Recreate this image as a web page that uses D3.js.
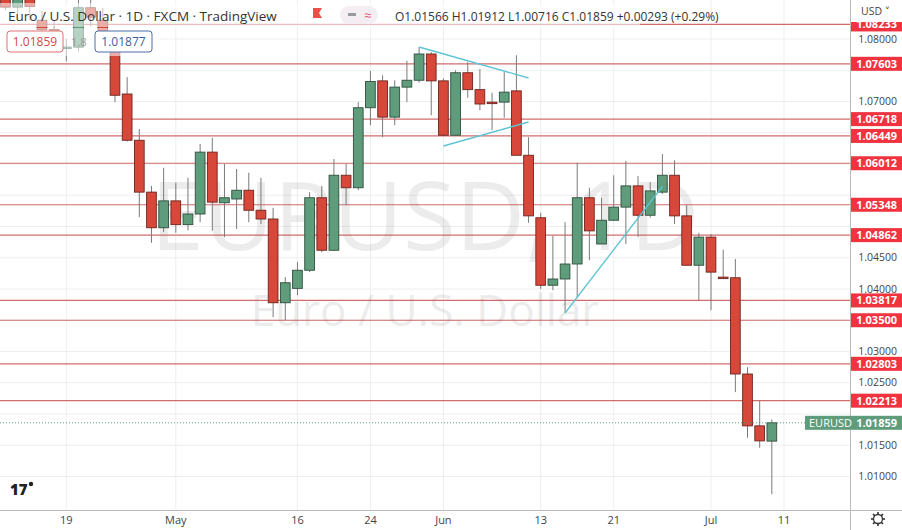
<!DOCTYPE html>
<html><head><meta charset="utf-8">
<script src="https://cdn.jsdelivr.net/npm/d3@7"></script>
<style>body{margin:0;background:#fff;}svg{display:block;font-family:"Open Sans","DejaVu Sans",sans-serif;}</style>
</head><body><svg id="c" width="902" height="530"></svg>
<script>
const dates = ["04-12","04-13","04-14","04-15","04-18","04-19","04-20","04-21","04-22","04-25","04-26","04-27","04-28","04-29",
"05-02","05-03","05-04","05-05","05-06","05-09","05-10","05-11","05-12","05-13","05-16","05-17","05-18","05-19","05-20","05-23","05-24","05-25","05-26","05-27","05-30","05-31",
"06-01","06-02","06-03","06-06","06-07","06-08","06-09","06-10","06-13","06-14","06-15","06-16","06-17","06-20","06-21","06-22","06-23","06-24","06-27","06-28","06-29","06-30",
"07-01","07-04","07-05","07-06","07-07","07-08","07-11"];
const opens  = [1.0870,1.0851,1.0865,1.0830,1.0815,1.0785,1.0787,1.0850,1.0830,1.0782,1.0712,1.0638,1.0555,1.0498,1.0541,1.0503,1.0520,1.0619,1.0538,1.0544,1.0558,1.0526,1.0512,1.0378,1.0401,1.0430,1.0546,1.0462,1.0582,1.0562,1.0690,1.0733,1.0675,1.0723,1.0734,1.0776,1.0733,1.0646,1.0746,1.0719,1.0699,1.0699,1.0717,1.0614,1.0514,1.0406,1.0416,1.0440,1.0546,1.0472,1.0510,1.0531,1.0565,1.0518,1.0555,1.0582,1.0517,1.0438,1.0483,1.0419,1.0418,1.0264,1.0181,1.01566];
const highs  = [1.0885,1.0880,1.0875,1.0845,1.0830,1.0800,1.0870,1.0936,1.0850,1.0798,1.0739,1.0656,1.0565,1.0594,1.0570,1.0578,1.0632,1.0642,1.0600,1.0592,1.0586,1.0578,1.0530,1.0419,1.0443,1.0555,1.0565,1.0608,1.0600,1.0699,1.0749,1.0742,1.0734,1.0765,1.0787,1.0779,1.0737,1.0750,1.0763,1.0752,1.0714,1.0747,1.0774,1.0643,1.0522,1.0485,1.0507,1.0602,1.0562,1.0546,1.0582,1.0605,1.0581,1.0571,1.0616,1.0606,1.0534,1.0490,1.0488,1.0463,1.0448,1.0275,1.0221,1.01912];
const lows   = [1.0846,1.0840,1.0830,1.0805,1.0785,1.0764,1.0780,1.0820,1.0790,1.0699,1.0636,1.0515,1.0474,1.0491,1.0490,1.0494,1.0507,1.0493,1.0483,1.0496,1.0507,1.0504,1.0355,1.0350,1.0390,1.0427,1.0459,1.0461,1.0534,1.0558,1.0662,1.0643,1.0662,1.0699,1.0730,1.0678,1.0645,1.0646,1.0706,1.0686,1.0654,1.0674,1.0614,1.0506,1.0400,1.0398,1.0362,1.0386,1.0446,1.0472,1.0509,1.0472,1.0483,1.0514,1.0552,1.0504,1.0438,1.0382,1.0366,1.0417,1.0235,1.0162,1.0146,1.00716];
const closes = [1.0851,1.0865,1.0852,1.0815,1.0800,1.0787,1.0850,1.0835,1.0810,1.0710,1.0638,1.0555,1.0498,1.0541,1.0503,1.0520,1.0619,1.0539,1.0546,1.0558,1.0526,1.0512,1.0378,1.0410,1.0430,1.0546,1.0462,1.0582,1.0562,1.0690,1.0732,1.0675,1.0723,1.0734,1.0776,1.0733,1.0646,1.0746,1.0719,1.0696,1.0697,1.0715,1.0614,1.0517,1.0406,1.0416,1.0440,1.0546,1.0493,1.0510,1.0531,1.0565,1.0518,1.0557,1.0582,1.0517,1.0438,1.0483,1.0427,1.0418,1.0264,1.0181,1.0157,1.01859];
const levels = [1.08233,1.07603,1.06718,1.06449,1.06012,1.05348,1.04862,1.03817,1.03500,1.02803,1.02213];
const priceTicks = [1.080,1.075,1.070,1.065,1.060,1.055,1.050,1.045,1.040,1.035,1.030,1.025,1.020,1.015,1.010];
const dateTicks = [["04-19","19"],["05-02","May"],["05-16","16"],["05-24","24"],["06-01","Jun"],["06-13","13"],["06-21","21"],["07-01","Jul"],["07-11","11"]];
const trendLines = [[["05-30",1.07872],["06-10",1.07376]],[["06-01",1.06288],["06-10",1.06672]],[["06-15",1.03616],["06-27",1.05640]]];
const last = 1.01859;

const svg = d3.select("#c");
const W=850, B=510;
const x = d3.scalePoint().domain(dates).range([5.5,784]);
const y = d3.scaleLinear().domain([1.08,1.01]).range([39,476.5]);
const step = x.step();

svg.append("g").selectAll("line").data(priceTicks).join("line")
 .attr("x1",0).attr("x2",W).attr("y1",d=>y(d)).attr("y2",d=>y(d)).attr("stroke","#eeeeee");
svg.append("g").selectAll("line").data(dateTicks).join("line")
 .attr("x1",d=>x(d[0])).attr("x2",d=>x(d[0])).attr("y1",0).attr("y2",B).attr("stroke","#eeeeee");

svg.append("text").attr("x",425).attr("y",250).attr("text-anchor","middle").attr("font-size",96)
 .attr("fill","#000").attr("opacity",0.07).text("EURUSD, 1D");
svg.append("text").attr("x",425).attr("y",326).attr("text-anchor","middle").attr("font-size",44)
 .attr("fill","#000").attr("opacity",0.07).text("Euro / U.S. Dollar");

svg.append("g").selectAll("line").data(levels).join("line")
 .attr("x1",0).attr("x2",W).attr("y1",d=>y(d)).attr("y2",d=>y(d)).attr("stroke","#c84848").attr("stroke-width",1.2).attr("opacity",0.8);

const plot = svg.append("g");
plot.append("clipPath").attr("id","cp").append("rect").attr("x",0).attr("y",0).attr("width",W).attr("height",B);
const pg = plot.append("g").attr("clip-path","url(#cp)");
const idx = d3.range(opens.length);
pg.selectAll("line.w").data(idx).join("line").attr("class","w")
 .attr("x1",i=>x(dates[i])).attr("x2",i=>x(dates[i])).attr("y1",i=>y(highs[i])).attr("y2",i=>y(lows[i]))
 .attr("stroke","#7a7a7a").attr("stroke-width",1);
pg.selectAll("rect.b").data(idx).join("rect").attr("class","b")
 .attr("x",i=>x(dates[i])-step*0.4).attr("width",step*0.8)
 .attr("y",i=>y(Math.max(opens[i],closes[i])))
 .attr("height",i=>Math.max(1.5,Math.abs(y(opens[i])-y(closes[i]))))
 .attr("fill",i=>closes[i]>=opens[i]?"#5e9c7b":"#d8483a")
 .attr("stroke",i=>closes[i]>=opens[i]?"#2f4f3e":"#6e241d").attr("stroke-width",0.9);

pg.selectAll("line.t").data(trendLines).join("line").attr("class","t")
 .attr("x1",d=>x(d[0][0])).attr("y1",d=>y(d[0][1])).attr("x2",d=>x(d[1][0])).attr("y2",d=>y(d[1][1]))
 .attr("stroke","#5cc4d4").attr("stroke-width",1.3);

svg.append("line").attr("x1",0).attr("x2",W).attr("y1",y(last)).attr("y2",y(last))
 .attr("stroke","#5e9c7b").attr("stroke-dasharray","1,2");

svg.append("rect").attr("x",0).attr("y",3).attr("width",640).attr("height",24).attr("fill","#fff").attr("opacity",0.55);
svg.append("rect").attr("x",0).attr("y",28).attr("width",160).attr("height",28).attr("fill","#fff").attr("opacity",0.55);
svg.append("text").attr("x",8).attr("y",21).attr("font-size",13.5).attr("fill","#333").text("Euro / U.S. Dollar · 1D · FXCM · TradingView");
svg.append("path").attr("d","M313,8 h9 l-3,5 l3,5 h-9 z").attr("fill","#e8504a");
svg.append("rect").attr("x",340).attr("y",6).attr("width",38).attr("height",18).attr("rx",9).attr("fill","#f4eef2");
svg.append("rect").attr("x",348).attr("y",13).attr("width",8).attr("height",3).attr("fill","#999");
svg.append("text").attr("x",364).attr("y",20).attr("font-size",13).attr("fill","#e05a7a").text("≈");
svg.append("text").attr("x",395).attr("y",21).attr("font-size",12).attr("fill","#333").text("O1.01566 H1.01912 L1.00716 C1.01859 +0.00293 (+0.29%)");
svg.append("rect").attr("x",7).attr("y",31).attr("width",56).attr("height",21).attr("rx",3).attr("fill","#fff").attr("stroke","#e07070");
svg.append("text").attr("x",35).attr("y",46).attr("text-anchor","middle").attr("font-size",12).attr("fill","#d04848").text("1.01859");
svg.append("text").attr("x",71).attr("y",46).attr("font-size",11).attr("fill","#999").text("1.8");
svg.append("rect").attr("x",95).attr("y",31).attr("width",57).attr("height",21).attr("rx",3).attr("fill","#fff").attr("stroke","#4a6fa8");
svg.append("text").attr("x",123.5).attr("y",46).attr("text-anchor","middle").attr("font-size",12).attr("fill","#3a5f9a").text("1.01877");

svg.append("rect").attr("x",W).attr("y",0).attr("width",52).attr("height",530).attr("fill","#fff");
svg.append("line").attr("x1",W+0.5).attr("x2",W+0.5).attr("y1",0).attr("y2",530).attr("stroke","#bbb");
const ticksShown = priceTicks.filter(t=>!levels.some(l=>Math.abs(y(l)-y(t))<11) && Math.abs(y(last)-y(t))>11 && y(t)>30);
svg.append("g").selectAll("text").data(ticksShown).join("text")
 .attr("x",897).attr("y",d=>y(d)+3.5).attr("text-anchor","end").attr("font-size",10.5).attr("fill","#444").text(d=>d.toFixed(5));
const lg = svg.append("g").selectAll("g").data(levels).join("g");
lg.append("rect").attr("x",W+1).attr("y",d=>y(d)-7).attr("width",51).attr("height",14).attr("fill","#f0333f");
lg.append("text").attr("x",897).attr("y",d=>y(d)+4).attr("text-anchor","end").attr("font-size",11).attr("font-weight","bold").attr("fill","#fff").text(d=>d.toFixed(5));
svg.append("rect").attr("x",805).attr("y",y(last)-7).attr("width",97).attr("height",14).attr("fill","#5e9c7b");
svg.append("text").attr("x",809).attr("y",y(last)+4).attr("font-size",11).attr("fill","#fff").text("EURUSD");
svg.append("text").attr("x",897).attr("y",y(last)+4).attr("text-anchor","end").attr("font-size",11).attr("font-weight","bold").attr("fill","#fff").text(last.toFixed(5));
svg.append("rect").attr("x",W+1).attr("y",0).attr("width",51).attr("height",22).attr("fill","#fff");
svg.append("text").attr("x",861).attr("y",15).attr("font-size",10.5).attr("fill","#444").text("USD ˅");

svg.append("rect").attr("x",0).attr("y",B).attr("width",W).attr("height",20).attr("fill","#fff");
svg.append("line").attr("x1",0).attr("x2",902).attr("y1",B+0.5).attr("y2",B+0.5).attr("stroke","#bbb");
svg.append("g").selectAll("text").data(dateTicks).join("text")
 .attr("x",d=>x(d[0])).attr("y",524).attr("text-anchor","middle").attr("font-size",11).attr("fill","#444").text(d=>d[1]);
const gear = svg.append("g").attr("transform","translate(878,519)");
gear.append("circle").attr("r",4.5).attr("fill","none").attr("stroke","#333").attr("stroke-width",1.3);
gear.selectAll("line").data(d3.range(8)).join("line").attr("x1",0).attr("y1",-4.5).attr("x2",0).attr("y2",-7)
 .attr("transform",d=>`rotate(${d*45})`).attr("stroke","#333").attr("stroke-width",1.6);
svg.append("text").attr("x",10).attr("y",495).attr("font-size",15).attr("font-weight","900").attr("fill","#222").text("17");
svg.append("circle").attr("cx",31).attr("cy",484).attr("r",2.2).attr("fill","#222");
</script></body></html>
